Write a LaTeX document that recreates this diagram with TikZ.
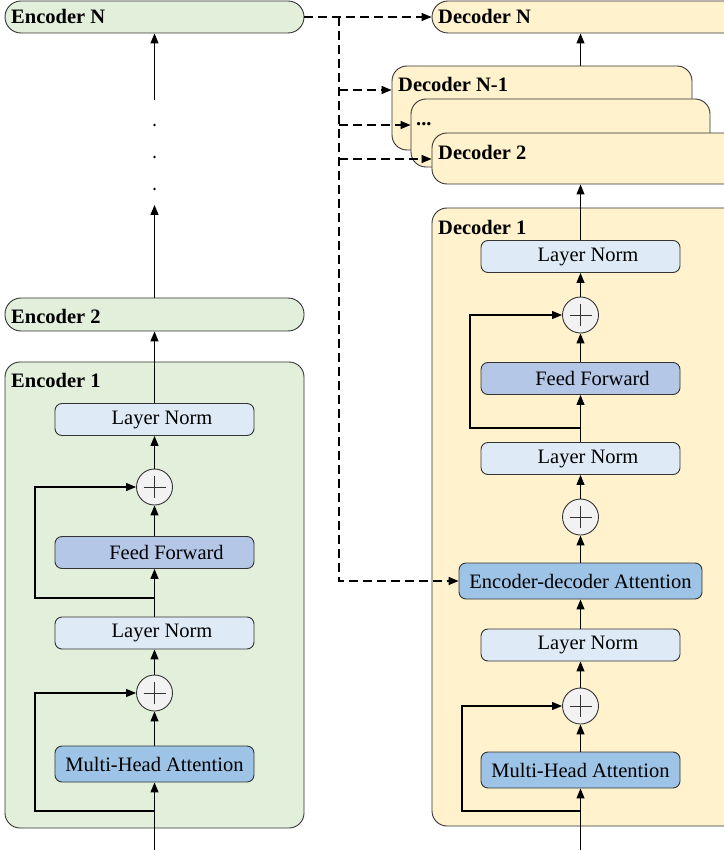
\documentclass[tikz,border=0pt]{standalone}
\usepackage{fontspec}
\setmainfont{Liberation Serif}
\usetikzlibrary{arrows.meta,calc}
\definecolor{encg}{HTML}{E2EFDA}
\definecolor{decy}{HTML}{FFF2CC}
\definecolor{lnc}{HTML}{DEEBF7}
\definecolor{ffc}{HTML}{B4C7E7}
\definecolor{mhc}{HTML}{9DC3E6}
\definecolor{plc}{HTML}{F2F2F2}
\definecolor{bdc}{HTML}{333333}
\begin{document}
\begin{tikzpicture}[x=1pt,y=-1pt,
  font=\fontsize{20.5}{24}\selectfont,
  bdr/.style={draw=bdc, line width=0.9pt},
  block/.style={bdr, rounded corners=7pt, minimum width=199pt, minimum height=32pt, inner sep=0pt},
  lnbox/.style={block, fill=lnc},
  ffbox/.style={block, fill=ffc},
  mhbox/.style={block, fill=mhc},
  pill/.style={bdr, rounded corners=16pt, inner sep=0pt},
  bigbox/.style={bdr, rounded corners=15pt, inner sep=0pt},
  hdr/.style={anchor=base west, inner sep=0pt, font=\fontsize{20.5}{24}\selectfont\bfseries},
  plusnode/.style={circle, bdr, fill=plc, minimum size=36pt, inner sep=0pt,
    path picture={\draw[line width=0.9pt] ($(path picture bounding box.center)+(-11pt,0)$) -- ($(path picture bounding box.center)+(11pt,0)$)
      ($(path picture bounding box.center)+(0,-11pt)$) -- ($(path picture bounding box.center)+(0,11pt)$);}},
  arr/.style={line width=1.1pt, -{Triangle[length=10pt,width=8pt]}},
  ln/.style={line width=1.1pt},
  darr/.style={line width=1.3pt, dash pattern=on 9pt off 5pt, -{Triangle[length=10pt,width=8pt]}},
  dln/.style={line width=1.3pt, dash pattern=on 9pt off 5pt},
  dotn/.style={circle, fill=black, minimum size=2.8pt, inner sep=0pt}
]
\useasboundingbox (0,0) rectangle (723,850);

% ---------------- Encoder side ----------------
\node[pill, fill=encg, minimum width=299pt, minimum height=32pt] (encN) at (154.5,17) {};
\node[hdr] (encNt) at (11,24) {Encoder N};
\node[pill, fill=encg, minimum width=299pt, minimum height=33pt] (enc2) at (154.5,314.5) {};
\node[hdr] (enc2t) at (11,323) {Encoder 2};
\node[bigbox, fill=encg, minimum width=299pt, minimum height=466pt] (enc1) at (154.5,595) {};
\node[hdr] (enc1t) at (11,387) {Encoder 1};

\node[lnbox] (eLN1) at (154.5,419.5) {\hspace*{15pt}Layer Norm};
\node[plusnode] (eP1) at (154.5,487) {};
\node[ffbox] (eFF) at (154.5,552.5) {\hspace*{24pt}Feed Forward};
\node[lnbox] (eLN2) at (154.5,633) {\hspace*{15pt}Layer Norm};
\node[plusnode] (eP2) at (154.5,693) {};
\node[mhbox, minimum height=36pt] (eMH) at (154.5,764) {Multi-Head Attention};

\node[dotn] (ed1) at (154.5,125) {};
\node[dotn] (ed2) at (154.5,157) {};
\node[dotn] (ed3) at (154.5,189) {};

\coordinate (eTop) at (154.5,100);
\coordinate (eMid) at (154.5,205);
\coordinate (eIn) at (154.5,852);
\coordinate (eS1) at (154.5,598);
\coordinate (eS1L) at (35,598);
\coordinate (eS2) at (154.5,811);
\coordinate (eS2L) at (35,811);

\draw[arr] (eTop) -- (encN.south);
\draw[arr] (enc2.north) -- (eMid);
\draw[arr] (eLN1.north) -- (enc2.south);
\draw[arr] (eP1.north) -- (eLN1.south);
\draw[arr] (eFF.north) -- (eP1.south);
\draw[arr] (eLN2.north) -- (eFF.south);
\draw[arr] (eS1) -- (eS1L) |- (eP1.west);
\draw[arr] (eP2.north) -- (eLN2.south);
\draw[arr] (eMH.north) -- (eP2.south);
\draw[arr] (eIn) -- (eMH.south);
\draw[arr] (eS2) -- (eS2L) |- (eP2.west);

% ---------------- Decoder side ----------------
\node[pill, fill=decy, minimum width=313pt, minimum height=32pt] (decN) at (588.5,17) {};
\node[hdr] (decNt) at (438,24) {Decoder N};

\node[bigbox, fill=decy, minimum width=300pt, minimum height=84pt] (decN1) at (542,108) {};
\node[hdr] (decN1t) at (398,92) {Decoder N-1};
\node[bigbox, fill=decy, minimum width=299pt, minimum height=68pt] (decD) at (560.5,133) {};
\node[hdr] (decDt) at (416,126) {...};
\node[bigbox, fill=decy, minimum width=313pt, minimum height=51pt] (dec2) at (588.5,158.5) {};
\node[hdr] (dec2t) at (438,160) {Decoder 2};

\node[bigbox, fill=decy, minimum width=313pt, minimum height=618pt] (dec1) at (588.5,517) {};
\node[hdr] (dec1t) at (438,234) {Decoder 1};

\node[lnbox] (dLN1) at (580.5,256.5) {\hspace*{15pt}Layer Norm};
\node[plusnode] (dP1) at (580.5,315) {};
\node[ffbox] (dFF) at (580.5,378.5) {\hspace*{24pt}Feed Forward};
\node[lnbox] (dLN2) at (580.5,458.5) {\hspace*{15pt}Layer Norm};
\node[plusnode] (dP2) at (580.5,517) {};
\node[mhbox, minimum width=243pt, minimum height=36pt] (dEDA) at (580.5,581) {Encoder-decoder Attention};
\node[lnbox] (dLN3) at (580.5,645) {\hspace*{15pt}Layer Norm};
\node[plusnode] (dP3) at (580.5,706) {};
\node[mhbox, minimum height=36pt] (dMH) at (580.5,770) {Multi-Head Attention};

\coordinate (dIn) at (580.5,852);
\coordinate (dS1) at (580.5,428);
\coordinate (dS1L) at (470,428);
\coordinate (dS2) at (580.5,811);
\coordinate (dS2L) at (462,811);

\draw[arr] (dLN1.north |- decN1.north) -- (dLN1.north |- decN.south);
\draw[arr] (dLN1.north) -- (dLN1.north |- dec2.south);
\draw[arr] (dP1.north) -- (dLN1.south);
\draw[arr] (dFF.north) -- (dP1.south);
\draw[arr] (dLN2.north) -- (dFF.south);
\draw[arr] (dS1) -- (dS1L) |- (dP1.west);
\draw[arr] (dP2.north) -- (dLN2.south);
\draw[arr] (dEDA.north) -- (dP2.south);
\draw[arr] (dLN3.north) -- (dEDA.south);
\draw[arr] (dP3.north) -- (dLN3.south);
\draw[arr] (dMH.north) -- (dP3.south);
\draw[arr] (dIn) -- (dMH.south);
\draw[arr] (dS2) -- (dS2L) |- (dP3.west);

% ---------------- Dashed cross connections ----------------
\coordinate (vTop) at (339,17);
\coordinate (vA) at (339,90);
\coordinate (vB) at (339,125);
\coordinate (vC) at (339,159);
\coordinate (vBot) at (339,581);
\draw[darr] (encN.east) -- (decN.west);
\draw[darr] (vTop) -- (vBot) -- (dEDA.west);
\draw[darr] (vA) -- (vA -| decN1.west);
\draw[darr] (vB) -- (vB -| decD.west);
\draw[darr] (vC) -- (vC -| dec2.west);
\end{tikzpicture}
\end{document}
